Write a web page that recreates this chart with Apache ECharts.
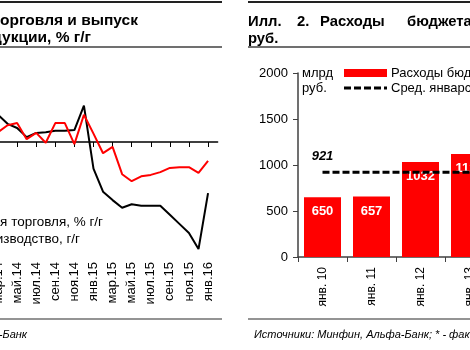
<!DOCTYPE html>
<html>
<head>
<meta charset="utf-8">
<script src="https://cdn.jsdelivr.net/npm/echarts@6/dist/echarts.min.js"></script>
<style>
html,body{margin:0;padding:0;background:#fff;}
#chart{width:470px;height:350px;}
</style>
</head>
<body>
<div id="chart"></div>
<script>
// ---- Left chart data (% y/y) ----
const leftCategories = ['мар.14','апр.14','май.14','июн.14','июл.14','авг.14','сен.14','окт.14','ноя.14','дек.14',
  'янв.15','фев.15','мар.15','апр.15','май.15','июн.15','июл.15','авг.15','сен.15','окт.15','ноя.15','дек.15','янв.16',''];
const retailTrade = [3.9, 2.6, 2.0, 0.7, 1.3, 1.4, 1.6, 1.6, 1.7, 5.2,
  -3.8, -7.1, -8.3, -9.4, -8.9, -9.1, -9.1, -9.1, -10.4, -11.7, -13.0, -15.3, -7.3, null];
const industrialOutput = [1.4, 2.4, 2.7, 0.4, 1.3, -0.1, 2.7, 2.7, -0.3, 3.9,
  1.2, -1.6, -0.7, -4.6, -5.6, -4.9, -4.7, -4.3, -3.7, -3.6, -3.6, -4.4, -2.7, null];

// ---- Right chart data (bn rub) ----
const rightCategories = ['янв. 10','янв. 11','янв. 12','янв. 13'];
const budgetSpending = [650, 657, 1032, 1120];
const avgJanSpending = [921, 921, 921, 921];
const rightTicks = [0, 500, 1000, 1500, 2000];

const FONT = "'Liberation Sans', Arial, sans-serif";

const _ctx = document.createElement('canvas').getContext('2d');
function fitSize(text, width, weight) {
  _ctx.font = (weight || '') + ' 100px ' + FONT;
  return 100 * width / _ctx.measureText(text).width;
}
const leftTitleSize = fitSize('орговля и выпуск', 138, 'bold');
const rightTitleSize = (fitSize('Илл.', 32, 'bold') + leftTitleSize) / 2;
const leftLegendSize = fitSize('я торговля, % г/г', 103, '');

const chart = echarts.init(document.getElementById('chart'));

function txt(x, y, text, opts) {
  return {
    type: 'text', x: x, y: y,
    style: Object.assign({ text: text, fill: '#000', font: '13px ' + FONT, textVerticalAlign: 'middle' }, opts || {})
  };
}
function hline(x1, x2, y, color, w, dash) {
  return { type: 'line', shape: { x1: x1, y1: y, x2: x2, y2: y },
    style: { stroke: color, lineWidth: w, lineDash: dash || null } };
}
const LT = 'bold ' + leftTitleSize.toFixed(2) + 'px ' + FONT;
const RT = 'bold ' + rightTitleSize.toFixed(2) + 'px ' + FONT;
const LL = leftLegendSize.toFixed(2) + 'px ' + FONT;

const option = {
  animation: false,
  textStyle: { fontFamily: FONT },
  grid: [
    { left: -2, top: 58, width: 219.6, height: 196, outerBoundsMode: 'none', containLabel: false },
    { left: 298, top: 73, width: 196, height: 184, outerBoundsMode: 'none', containLabel: false }
  ],
  xAxis: [
    { gridIndex: 0, type: 'category', data: leftCategories, boundaryGap: false, position: 'bottom',
      axisLine: { show: false, onZero: false }, axisTick: { show: false },
      axisLabel: { interval: 1, rotate: 90, margin: 8, fontSize: 13, color: '#000', fontFamily: FONT } },
    { gridIndex: 0, type: 'category', data: leftCategories, boundaryGap: false, position: 'bottom',
      axisLine: { show: true, onZero: true, lineStyle: { color: '#000', width: 1.5 } },
      axisTick: { show: true, interval: 1, length: 5, lineStyle: { color: '#000', width: 1 } },
      axisLabel: { show: false } },
    { gridIndex: 1, type: 'category', data: rightCategories, boundaryGap: true, position: 'bottom',
      axisLine: { show: true, lineStyle: { color: '#404040', width: 1.5 } },
      axisTick: { show: true, length: 5, lineStyle: { color: '#404040', width: 1 } },
      axisLabel: { interval: 0, rotate: 90, margin: 10, fontSize: 12, color: '#000', fontFamily: FONT } }
  ],
  yAxis: [
    { gridIndex: 0, type: 'value', min: -16, max: 12, show: false, splitLine: { show: false } },
    { gridIndex: 1, type: 'value', min: rightTicks[0], max: rightTicks[rightTicks.length - 1], interval: 500,
      axisLine: { show: true, lineStyle: { color: '#404040', width: 1.5 } },
      axisTick: { show: true, length: 5, lineStyle: { color: '#404040', width: 1 } },
      axisLabel: { margin: 10, fontSize: 13, color: '#000', fontFamily: FONT,
        formatter: function (v) { return String(v); } },
      splitLine: { show: false } }
  ],
  series: [
    { name: 'Розничная торговля, % г/г', type: 'line', xAxisIndex: 0, yAxisIndex: 0, data: retailTrade,
      showSymbol: false, lineStyle: { color: '#000', width: 2 }, itemStyle: { color: '#000' }, z: 3 },
    { name: 'Промышленное производство, г/г', type: 'line', xAxisIndex: 0, yAxisIndex: 0, data: industrialOutput,
      showSymbol: false, lineStyle: { color: '#ff0000', width: 2 }, itemStyle: { color: '#ff0000' }, z: 4 },
    { name: 'Расходы бюджета', type: 'bar', xAxisIndex: 2, yAxisIndex: 1, data: budgetSpending,
      barWidth: 37, itemStyle: { color: '#ff0000' },
      label: { show: true, position: 'insideTop', distance: 8, color: '#fff', fontWeight: 'bold', fontSize: 13, fontFamily: FONT } },
    { name: 'Сред. январские расходы', type: 'line', xAxisIndex: 2, yAxisIndex: 1,
      data: avgJanSpending.map(function (v, i) {
        return i === 0 ? { value: v, label: { show: true } } : v;
      }),
      showSymbol: true, symbol: 'circle', symbolSize: 0, z: 5,
      itemStyle: { color: '#000' },
      lineStyle: { color: '#000', width: 3, type: [7, 3] },
      label: { show: false, position: 'top', distance: 9, color: '#000', fontWeight: 'bold', fontStyle: 'italic', fontSize: 13, fontFamily: FONT } }
  ],
  graphic: [
    // left panel frame/title
    hline(0, 222, 2, '#222', 2),
    hline(0, 222, 47, '#707070', 2),
    hline(0, 222, 319, '#707070', 1.5),
    txt(138, 20.5, 'Илл. 1. Розничная торговля и выпуск', { textAlign: 'right', font: LT }),
    txt(91, 37.5, 'промышленной продукции, % г/г', { textAlign: 'right', font: LT }),
    txt(103, 222, 'Розничная торговля, % г/г', { textAlign: 'right', font: LL }),
    txt(80, 239, 'Промышленное производство, г/г', { textAlign: 'right', font: LL }),
    txt(27, 335, 'Источники: ФСГС, Альфа-Банк', { textAlign: 'right', font: 'italic 11px ' + FONT }),
    // right panel frame/title
    hline(248, 470, 2, '#222', 2),
    hline(248, 470, 47, '#707070', 2),
    hline(248, 470, 319, '#707070', 1.5),
    txt(248, 21.5, 'Илл.', { font: RT }),
    txt(297, 21.5, '2.', { font: RT }),
    txt(320, 21.5, 'Расходы', { font: RT }),
    txt(407, 21.5, 'бюджета в январе, млрд', { font: RT }),
    txt(248, 38.5, 'руб.', { font: RT }),
    txt(254, 335, 'Источники: Минфин, Альфа-Банк; * - факт', { font: 'italic 11px ' + FONT }),
    // right chart unit + legend
    txt(302, 73, 'млрд', { font: '13px ' + FONT }),
    txt(302, 88, 'руб.', { font: '13px ' + FONT }),
    { type: 'rect', shape: { x: 344, y: 69, width: 43, height: 8 }, style: { fill: '#ff0000' } },
    txt(391, 73, 'Расходы бюджета в январе', { font: '13px ' + FONT }),
    hline(344, 387, 88, '#000', 3, [7, 3]),
    txt(391, 88, 'Сред. январские расходы', { font: '13px ' + FONT })
  ]
};
chart.setOption(option);
</script>
</body>
</html>
